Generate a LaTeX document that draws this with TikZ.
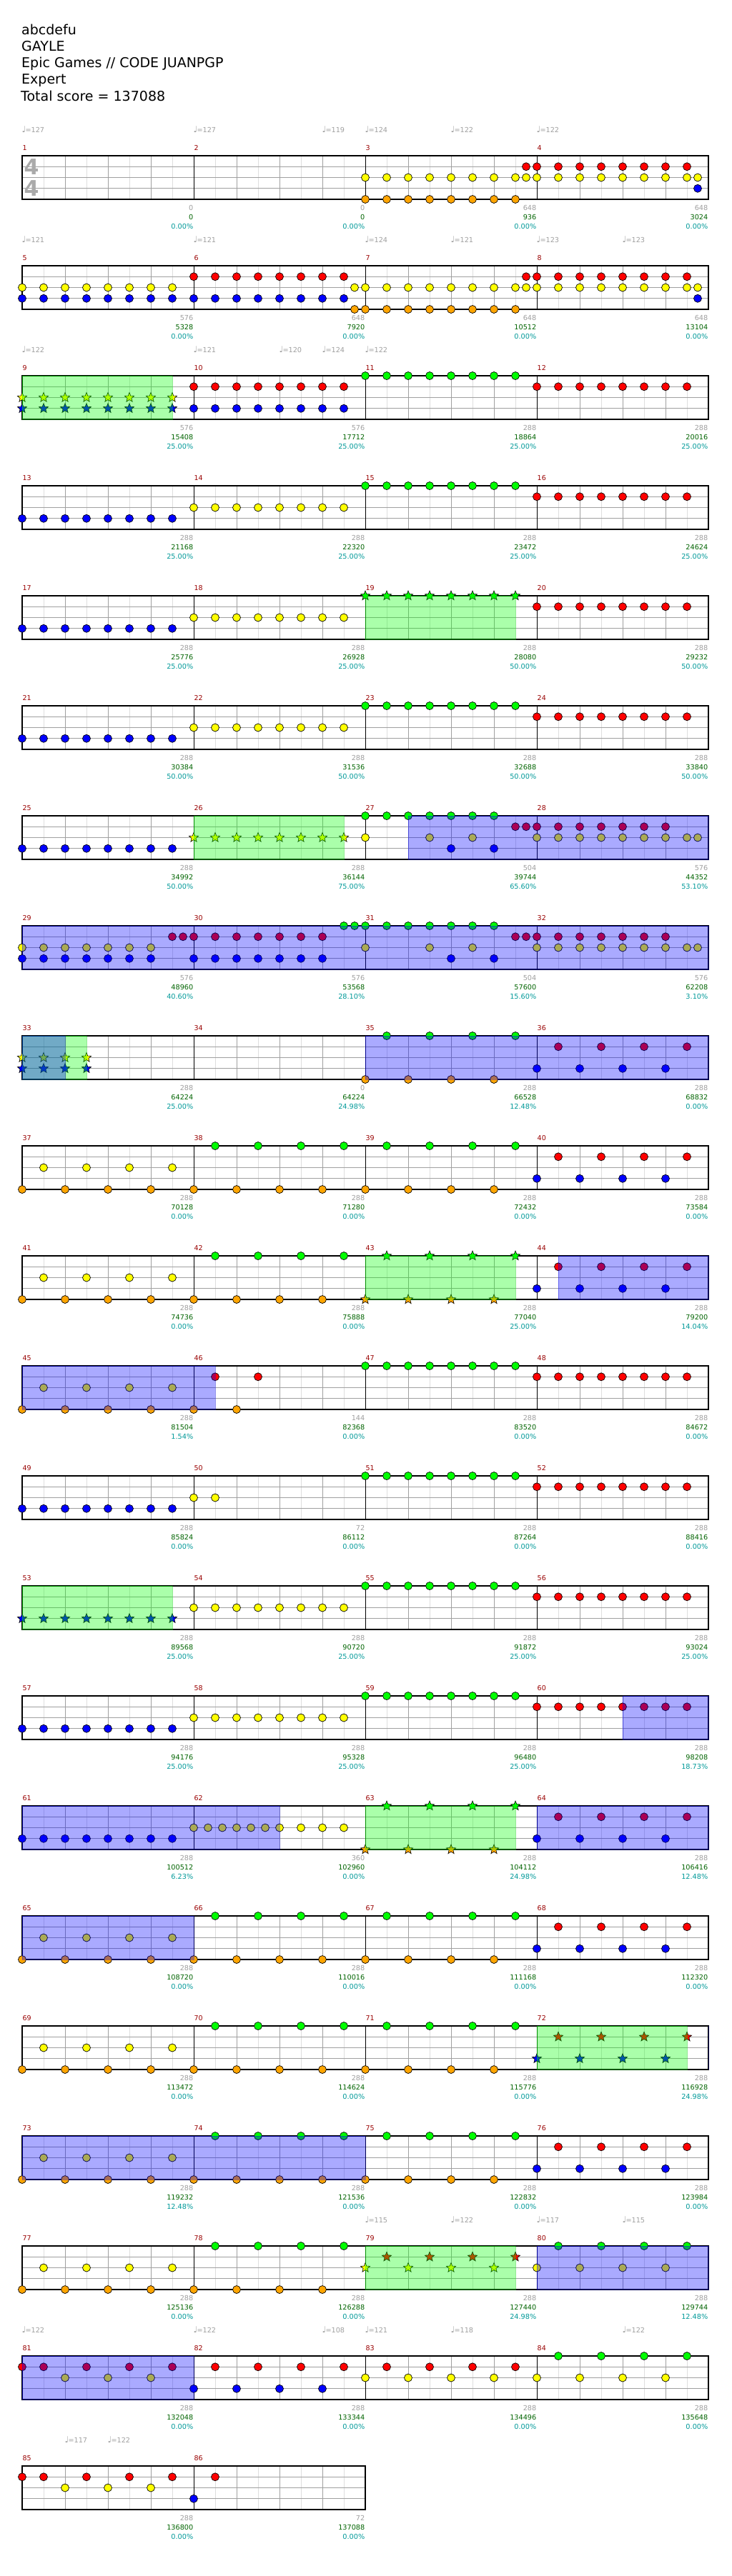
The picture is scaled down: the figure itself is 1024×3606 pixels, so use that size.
\documentclass[tikz,border=0pt]{standalone}
\usepackage{fontspec}
\setmainfont{DejaVu Sans}
\usetikzlibrary{shapes.geometric}
\definecolor{fG}{RGB}{0,255,0}
\definecolor{fR}{RGB}{255,0,0}
\definecolor{fY}{RGB}{255,255,0}
\definecolor{fB}{RGB}{0,0,255}
\definecolor{fO}{RGB}{255,165,0}
\definecolor{gridc}{RGB}{160,160,160}
\definecolor{lgridc}{RGB}{222,222,222}
\definecolor{sgray}{RGB}{160,160,160}
\definecolor{sgreen}{RGB}{0,100,0}
\definecolor{steal}{RGB}{0,153,153}
\definecolor{mred}{RGB}{153,0,0}
\definecolor{tsgray}{RGB}{170,170,170}
\tikzset{
  nt/.style={circle,draw=black,line width=0.7pt,inner sep=0pt,minimum size=11pt},
  st/.style={star,star points=5,star point ratio=2.3,draw=black,line width=0.6pt,inner sep=0pt,minimum size=14pt},
  lgrid/.style={draw=lgridc,line width=1pt},
  grid/.style={draw=gridc,line width=1pt},
  bar/.style={draw=black,line width=1pt},
  border/.style={draw=black,line width=1.3pt},
  spg/.style={fill=fG,draw=fG,opacity=0.333,line width=1pt},
  act/.style={fill=fB,draw=fB,opacity=0.333,line width=1pt},
  hdr/.style={anchor=base west,inner sep=0pt,font=\fontsize{19}{19}\selectfont},
  mnum/.style={anchor=base west,inner sep=0pt,text=mred,font=\fontsize{9.5}{9.5}\selectfont},
  sa/.style={anchor=base east,inner sep=0pt,text=sgray,font=\fontsize{9.7}{9.7}\selectfont},
  sb/.style={anchor=base east,inner sep=0pt,text=sgreen,font=\fontsize{9.7}{9.7}\selectfont},
  sc/.style={anchor=base east,inner sep=0pt,text=steal,font=\fontsize{9.7}{9.7}\selectfont},
  tempo/.style={anchor=base west,inner sep=0pt,text=sgray,font=\fontsize{9.7}{9.7}\selectfont},
  tsig/.style={inner sep=0pt,text=tsgray,font=\bfseries\fontsize{30}{30}\selectfont},
}
\newcommand\tq{\makebox[4.8pt][l]{\fontsize{12}{12}\selectfont ♩}}
\newcommand\setm[1]{\pgfmathtruncatemacro\mR{int((#1-1)/4)}\pgfmathtruncatemacro\mC{#1-1-4*\mR}\pgfmathsetmacro\mX{31+240*\mC}\pgfmathsetmacro\mT{218+154*\mR}}
\newcommand\pn[4]{\edef\plist{#4}\foreach \p in \plist {\node[#1,fill=#3] at ({\mX+15*\p},{\mT+15.25*#2}) {};}}
\newcommand\nG[1]{\pn{nt}{0}{fG}{#1}}
\newcommand\nR[1]{\pn{nt}{1}{fR}{#1}}
\newcommand\nY[1]{\pn{nt}{2}{fY}{#1}}
\newcommand\nB[1]{\pn{nt}{3}{fB}{#1}}
\newcommand\nO[1]{\pn{nt}{4}{fO}{#1}}
\newcommand\sG[1]{\pn{st}{0}{fG}{#1}}
\newcommand\sR[1]{\pn{st}{1}{fR}{#1}}
\newcommand\sY[1]{\pn{st}{2}{fY}{#1}}
\newcommand\sB[1]{\pn{st}{3}{fB}{#1}}
\newcommand\sO[1]{\pn{st}{4}{fO}{#1}}
\def\EE{0,2,4,6,8,10,12,14}
\def\ES{0,2,4,6,8,10,12}
\def\QA{0,4,8,12}
\def\QB{2,6,10,14}
\newcommand\staffrow[2]{%
  \pgfmathsetmacro\sT{218+154*#1}%
  \pgfmathsetmacro\sW{31+240*#2}%
  \foreach \k in {1,...,#2} {
    \pgfmathsetmacro\sX{31+240*(\k-1)}
    \foreach \d in {30,90,150,210} {\draw[lgrid] ({\sX+\d},\sT) -- ({\sX+\d},{\sT+61});}
    \foreach \d in {60,120,180} {\draw[grid] ({\sX+\d},\sT) -- ({\sX+\d},{\sT+61});}
  }
  \foreach \l in {1,2,3} {\draw[grid] (31,{\sT+15.25*\l}) -- (\sW,{\sT+15.25*\l});}
  \foreach \k in {2,...,#2} {\draw[bar] ({31+240*(\k-1)},\sT) -- ({31+240*(\k-1)},{\sT+61});}
  \draw[border] (31,\sT) rectangle (\sW,{\sT+61});
}
\newcommand\hl[5]{\setm{#2}\pgfmathsetmacro\hxa{\mX+15*#3}\setm{#4}\pgfmathsetmacro\hxb{\mX+15*#5}\filldraw[#1] (\hxa,\mT) rectangle (\hxb,{\mT+61});}
\newcommand\scr[4]{\setm{#1}\node[sa] at ({\mX+239.5},{\mT+76.7}) {#2};\node[sb] at ({\mX+239.5},{\mT+89.7}) {#3};\node[sc] at ({\mX+239.5},{\mT+102.7}) {#4};}
\newcommand\tempo[3]{\pgfmathsetmacro\tyy{218+154*#1-32.7}\node[tempo] at ({#2-0.5},\tyy) {\tq=#3};}
\begin{document}
\begin{tikzpicture}[x=1pt,y=-1pt]
\useasboundingbox[fill=white] (0,0) rectangle (1024,3606);
% header
\node[hdr] at (30,48.7) {abcdefu};
\node[hdr] at (30,71.7) {GAYLE};
\node[hdr] at (30,94.7) {Epic Games // CODE JUANPGP};
\node[hdr] at (30,117.7) {Expert};
\node[hdr] at (29,141.2) {Total score = 137088};
% staves
\foreach \r in {0,...,20} {\staffrow{\r}{4}}
\staffrow{21}{2}
\node[tsig] at (44,233.8) {4};
\node[tsig] at (44,263.7) {4};
% notes
\setm{3}\nY{\EE,15}\nO{\EE}\nR{15}
\setm{4}\nR{\EE}\nY{\EE,15}\nB{15}
\setm{5}\nY{\EE}\nB{\EE}
\setm{6}\nR{\EE}\nB{\EE}\nY{15}\nO{15}
\setm{7}\nY{\EE,15}\nO{\EE}\nR{15}
\setm{8}\nR{\EE}\nY{\EE,15}\nB{15}
\setm{9}\sY{\EE}\sB{\EE}
\setm{10}\nR{\EE}\nB{\EE}
\setm{11}\nG{\EE}
\setm{12}\nR{\EE}
\setm{13}\nB{\EE}
\setm{14}\nY{\EE}
\setm{15}\nG{\EE}
\setm{16}\nR{\EE}
\setm{17}\nB{\EE}
\setm{18}\nY{\EE}
\setm{19}\sG{\EE}
\setm{20}\nR{\EE}
\setm{21}\nB{\EE}
\setm{22}\nY{\EE}
\setm{23}\nG{\EE}
\setm{24}\nR{\EE}
\setm{25}\nB{\EE}
\setm{26}\sY{\EE}
\setm{27}\nG{\ES}\nY{0,6,10}\nB{8,12}\nR{14,15}
\setm{28}\nR{\ES}\nY{\ES,14,15}
\setm{29}\nY{\ES}\nB{\ES}\nR{14,15}
\setm{30}\nR{\ES}\nB{\ES}\nG{14,15}
\setm{31}\nG{\ES}\nY{0,6,10}\nB{8,12}\nR{14,15}
\setm{32}\nR{\ES}\nY{\ES,14,15}
\setm{33}\sY{0,2,4,6}\sB{0,2,4,6}
\setm{35}\nG{\QB}\nO{\QA}
\setm{36}\nB{\QA}\nR{\QB}
\setm{37}\nO{\QA}\nY{\QB}
\setm{38}\nO{\QA}\nG{\QB}
\setm{39}\nO{\QA}\nG{\QB}
\setm{40}\nB{\QA}\nR{\QB}
\setm{41}\nO{\QA}\nY{\QB}
\setm{42}\nO{\QA}\nG{\QB}
\setm{43}\sO{\QA}\sG{\QB}
\setm{44}\nB{\QA}\nR{\QB}
\setm{45}\nO{\QA}\nY{\QB}
\setm{46}\nO{0,4}\nR{2,6}
\setm{47}\nG{\EE}
\setm{48}\nR{\EE}
\setm{49}\nB{\EE}
\setm{50}\nY{0,2}
\setm{51}\nG{\EE}
\setm{52}\nR{\EE}
\setm{53}\sB{\EE}
\setm{54}\nY{\EE}
\setm{55}\nG{\EE}
\setm{56}\nR{\EE}
\setm{57}\nB{\EE}
\setm{58}\nY{\EE}
\setm{59}\nG{\EE}
\setm{60}\nR{\EE}
\setm{61}\nB{\EE}
\setm{62}\nY{0,1.3333,2.6667,4,5.3333,6.6667,8,10,12,14}
\setm{63}\sO{\QA}\sG{\QB}
\setm{64}\nB{\QA}\nR{\QB}
\setm{65}\nO{\QA}\nY{\QB}
\setm{66}\nO{\QA}\nG{\QB}
\setm{67}\nO{\QA}\nG{\QB}
\setm{68}\nB{\QA}\nR{\QB}
\setm{69}\nO{\QA}\nY{\QB}
\setm{70}\nO{\QA}\nG{\QB}
\setm{71}\nO{\QA}\nG{\QB}
\setm{72}\sB{\QA}\sR{\QB}
\setm{73}\nO{\QA}\nY{\QB}
\setm{74}\nO{\QA}\nG{\QB}
\setm{75}\nO{\QA}\nG{\QB}
\setm{76}\nB{\QA}\nR{\QB}
\setm{77}\nO{\QA}\nY{\QB}
\setm{78}\nO{\QA}\nG{\QB}
\setm{79}\sY{\QA}\sR{\QB}
\setm{80}\nY{\QA}\nG{\QB}
\setm{81}\nR{0,2,6,10,14}\nY{4,8,12}
\setm{82}\nB{\QA}\nR{\QB}
\setm{83}\nY{\QA}\nR{\QB}
\setm{84}\nY{\QA}\nG{\QB}
\setm{85}\nR{0,2,6,10,14}\nY{4,8,12}
\setm{86}\nB{0}\nR{2}
% star power phrases
\hl{spg}{9}{0}{9}{14}
\hl{spg}{19}{0}{19}{14}
\hl{spg}{26}{0}{26}{14}
\hl{spg}{33}{0}{33}{6}
\hl{spg}{43}{0}{43}{14}
\hl{spg}{53}{0}{53}{14}
\hl{spg}{63}{0}{63}{14}
\hl{spg}{72}{0}{72}{14}
\hl{spg}{79}{0}{79}{14}
% activations
\hl{act}{27}{4}{28}{16}
\hl{act}{29}{0}{32}{16}
\hl{act}{33}{0}{33}{4}
\hl{act}{35}{0}{36}{16}
\hl{act}{44}{2}{44}{16}
\hl{act}{45}{0}{46}{2}
\hl{act}{60}{8}{60}{16}
\hl{act}{61}{0}{62}{8}
\hl{act}{64}{0}{64}{16}
\hl{act}{65}{0}{65}{16}
\hl{act}{72}{16}{72}{16}
\hl{act}{73}{0}{74}{16}
\hl{act}{80}{0}{80}{16}
\hl{act}{81}{0}{81}{16}
% measure numbers
\foreach \n in {1,...,86} {\setm{\n}\node[mnum] at ({\mX+0.5},{\mT-8}) {\n};}
% tempo marks
\tempo{0}{31}{127}\tempo{0}{271}{127}\tempo{0}{451}{119}\tempo{0}{511}{124}\tempo{0}{631}{122}\tempo{0}{751}{122}
\tempo{1}{31}{121}\tempo{1}{271}{121}\tempo{1}{511}{124}\tempo{1}{631}{121}\tempo{1}{751}{123}\tempo{1}{871}{123}
\tempo{2}{31}{122}\tempo{2}{271}{121}\tempo{2}{391}{120}\tempo{2}{451}{124}\tempo{2}{511}{122}
\tempo{19}{511}{115}\tempo{19}{631}{122}\tempo{19}{751}{117}\tempo{19}{871}{115}
\tempo{20}{31}{122}\tempo{20}{271}{122}\tempo{20}{451}{108}\tempo{20}{511}{121}\tempo{20}{631}{118}\tempo{20}{871}{122}
\tempo{21}{91}{117}\tempo{21}{151}{122}
% scores
\scr{1}{0}{0}{0.00\%}
\scr{2}{0}{0}{0.00\%}
\scr{3}{648}{936}{0.00\%}
\scr{4}{648}{3024}{0.00\%}
\scr{5}{576}{5328}{0.00\%}
\scr{6}{648}{7920}{0.00\%}
\scr{7}{648}{10512}{0.00\%}
\scr{8}{648}{13104}{0.00\%}
\scr{9}{576}{15408}{25.00\%}
\scr{10}{576}{17712}{25.00\%}
\scr{11}{288}{18864}{25.00\%}
\scr{12}{288}{20016}{25.00\%}
\scr{13}{288}{21168}{25.00\%}
\scr{14}{288}{22320}{25.00\%}
\scr{15}{288}{23472}{25.00\%}
\scr{16}{288}{24624}{25.00\%}
\scr{17}{288}{25776}{25.00\%}
\scr{18}{288}{26928}{25.00\%}
\scr{19}{288}{28080}{50.00\%}
\scr{20}{288}{29232}{50.00\%}
\scr{21}{288}{30384}{50.00\%}
\scr{22}{288}{31536}{50.00\%}
\scr{23}{288}{32688}{50.00\%}
\scr{24}{288}{33840}{50.00\%}
\scr{25}{288}{34992}{50.00\%}
\scr{26}{288}{36144}{75.00\%}
\scr{27}{504}{39744}{65.60\%}
\scr{28}{576}{44352}{53.10\%}
\scr{29}{576}{48960}{40.60\%}
\scr{30}{576}{53568}{28.10\%}
\scr{31}{504}{57600}{15.60\%}
\scr{32}{576}{62208}{3.10\%}
\scr{33}{288}{64224}{25.00\%}
\scr{34}{0}{64224}{24.98\%}
\scr{35}{288}{66528}{12.48\%}
\scr{36}{288}{68832}{0.00\%}
\scr{37}{288}{70128}{0.00\%}
\scr{38}{288}{71280}{0.00\%}
\scr{39}{288}{72432}{0.00\%}
\scr{40}{288}{73584}{0.00\%}
\scr{41}{288}{74736}{0.00\%}
\scr{42}{288}{75888}{0.00\%}
\scr{43}{288}{77040}{25.00\%}
\scr{44}{288}{79200}{14.04\%}
\scr{45}{288}{81504}{1.54\%}
\scr{46}{144}{82368}{0.00\%}
\scr{47}{288}{83520}{0.00\%}
\scr{48}{288}{84672}{0.00\%}
\scr{49}{288}{85824}{0.00\%}
\scr{50}{72}{86112}{0.00\%}
\scr{51}{288}{87264}{0.00\%}
\scr{52}{288}{88416}{0.00\%}
\scr{53}{288}{89568}{25.00\%}
\scr{54}{288}{90720}{25.00\%}
\scr{55}{288}{91872}{25.00\%}
\scr{56}{288}{93024}{25.00\%}
\scr{57}{288}{94176}{25.00\%}
\scr{58}{288}{95328}{25.00\%}
\scr{59}{288}{96480}{25.00\%}
\scr{60}{288}{98208}{18.73\%}
\scr{61}{288}{100512}{6.23\%}
\scr{62}{360}{102960}{0.00\%}
\scr{63}{288}{104112}{24.98\%}
\scr{64}{288}{106416}{12.48\%}
\scr{65}{288}{108720}{0.00\%}
\scr{66}{288}{110016}{0.00\%}
\scr{67}{288}{111168}{0.00\%}
\scr{68}{288}{112320}{0.00\%}
\scr{69}{288}{113472}{0.00\%}
\scr{70}{288}{114624}{0.00\%}
\scr{71}{288}{115776}{0.00\%}
\scr{72}{288}{116928}{24.98\%}
\scr{73}{288}{119232}{12.48\%}
\scr{74}{288}{121536}{0.00\%}
\scr{75}{288}{122832}{0.00\%}
\scr{76}{288}{123984}{0.00\%}
\scr{77}{288}{125136}{0.00\%}
\scr{78}{288}{126288}{0.00\%}
\scr{79}{288}{127440}{24.98\%}
\scr{80}{288}{129744}{12.48\%}
\scr{81}{288}{132048}{0.00\%}
\scr{82}{288}{133344}{0.00\%}
\scr{83}{288}{134496}{0.00\%}
\scr{84}{288}{135648}{0.00\%}
\scr{85}{288}{136800}{0.00\%}
\scr{86}{72}{137088}{0.00\%}
\end{tikzpicture}
\end{document}
